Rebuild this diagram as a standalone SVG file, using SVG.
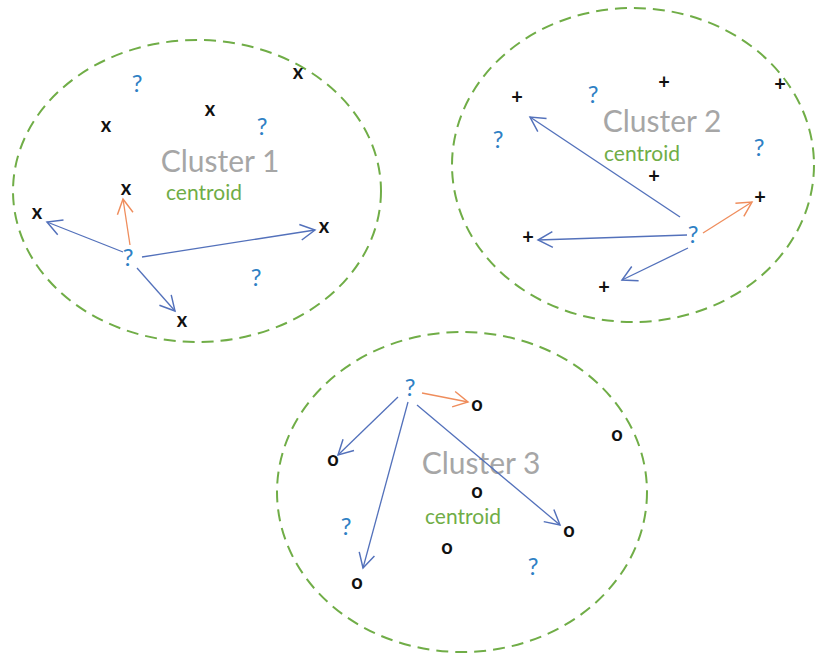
<svg xmlns="http://www.w3.org/2000/svg" width="815" height="654" viewBox="0 0 815 654">
<style>
.cl{fill:none;stroke:#70ad47;stroke-width:2;stroke-dasharray:12 7}
text{font-family:Lato,"Open Sans","Liberation Sans",sans-serif;text-anchor:middle}
.m{font-size:20px;fill:#111;font-weight:bold}
.q{font-size:24px;fill:#2e80c4}
.t{font-size:30px;fill:#a6a6a6}
.c{font-size:21px;fill:#70ad47}
.b{stroke:#5371bb;stroke-width:1.3;fill:none}
.o{stroke:#ef8d5c;stroke-width:1.3;fill:none}
</style>
<defs>
<marker id="ab" markerUnits="userSpaceOnUse" markerWidth="18" markerHeight="18" refX="13" refY="7" orient="auto" viewBox="-1 -1 16 16"><path d="M0,0 L13,7 L0,14" fill="none" stroke="#5371bb" stroke-width="1.3"/></marker>
<marker id="ao" markerUnits="userSpaceOnUse" markerWidth="18" markerHeight="18" refX="13" refY="7" orient="auto" viewBox="-1 -1 16 16"><path d="M0,0 L13,7 L0,14" fill="none" stroke="#ef8d5c" stroke-width="1.3"/></marker>
</defs>
<rect width="815" height="654" fill="#fff"/>
<g id="cluster1">
<ellipse class="cl" cx="197" cy="191" rx="184" ry="151"/>
<text class="q" x="137" y="92">?</text>
<text class="m" x="298" y="79">x</text>
<text class="m" x="210" y="116">x</text>
<text class="m" x="106" y="132">x</text>
<text class="q" x="262" y="135">?</text>
<text class="t" x="220" y="172">Cluster 1</text>
<text class="m" x="126" y="195">x</text>
<text class="c" x="204" y="200">centroid</text>
<text class="m" x="37" y="219">x</text>
<text class="m" x="324" y="233">x</text>
<text class="q" x="128" y="266">?</text>
<text class="q" x="256" y="286">?</text>
<text class="m" x="182" y="327">x</text>
</g>
<g id="cluster2">
<ellipse class="cl" cx="633" cy="165" rx="181" ry="157"/>
<text class="m" x="517" y="104">+</text>
<text class="q" x="593" y="103">?</text>
<text class="m" x="664" y="89">+</text>
<text class="m" x="780" y="91">+</text>
<text class="t" x="662" y="132">Cluster 2</text>
<text class="q" x="498" y="148">?</text>
<text class="q" x="759" y="156">?</text>
<text class="c" x="642" y="161">centroid</text>
<text class="m" x="654" y="183">+</text>
<text class="m" x="760" y="204">+</text>
<text class="q" x="693" y="243">?</text>
<text class="m" x="528" y="244">+</text>
<text class="m" x="604" y="294">+</text>
</g>
<g id="cluster3">
<ellipse class="cl" cx="462" cy="492" rx="185" ry="160"/>
<text class="q" x="410" y="396">?</text>
<text class="m" x="477" y="411">o</text>
<text class="m" x="617" y="441">o</text>
<text class="m" x="333" y="466">o</text>
<text class="t" x="481" y="474">Cluster 3</text>
<text class="m" x="477" y="498">o</text>
<text class="c" x="463" y="524">centroid</text>
<text class="q" x="346" y="535">?</text>
<text class="m" x="569" y="537">o</text>
<text class="m" x="447" y="554">o</text>
<text class="q" x="533" y="575">?</text>
<text class="m" x="357" y="589">o</text>
</g>
<g id="connectors">
<line class="b" x1="123" y1="252" x2="47" y2="222" marker-end="url(#ab)"/>
<line class="b" x1="142" y1="257" x2="315" y2="230" marker-end="url(#ab)"/>
<line class="b" x1="137" y1="268" x2="175" y2="311" marker-end="url(#ab)"/>
<line class="o" x1="130" y1="245" x2="123" y2="199" marker-end="url(#ao)"/>
<line class="b" x1="680" y1="217" x2="530" y2="117" marker-end="url(#ab)"/>
<line class="b" x1="687" y1="235" x2="538" y2="240" marker-end="url(#ab)"/>
<line class="b" x1="688" y1="248" x2="622" y2="280" marker-end="url(#ab)"/>
<line class="o" x1="703" y1="233" x2="752" y2="202" marker-end="url(#ao)"/>
<line class="o" x1="422" y1="393" x2="468" y2="402" marker-end="url(#ao)"/>
<line class="b" x1="398" y1="397" x2="338" y2="455" marker-end="url(#ab)"/>
<line class="b" x1="408" y1="402" x2="363" y2="568" marker-end="url(#ab)"/>
<line class="b" x1="417" y1="405" x2="560" y2="525" marker-end="url(#ab)"/>
</g>
</svg>
